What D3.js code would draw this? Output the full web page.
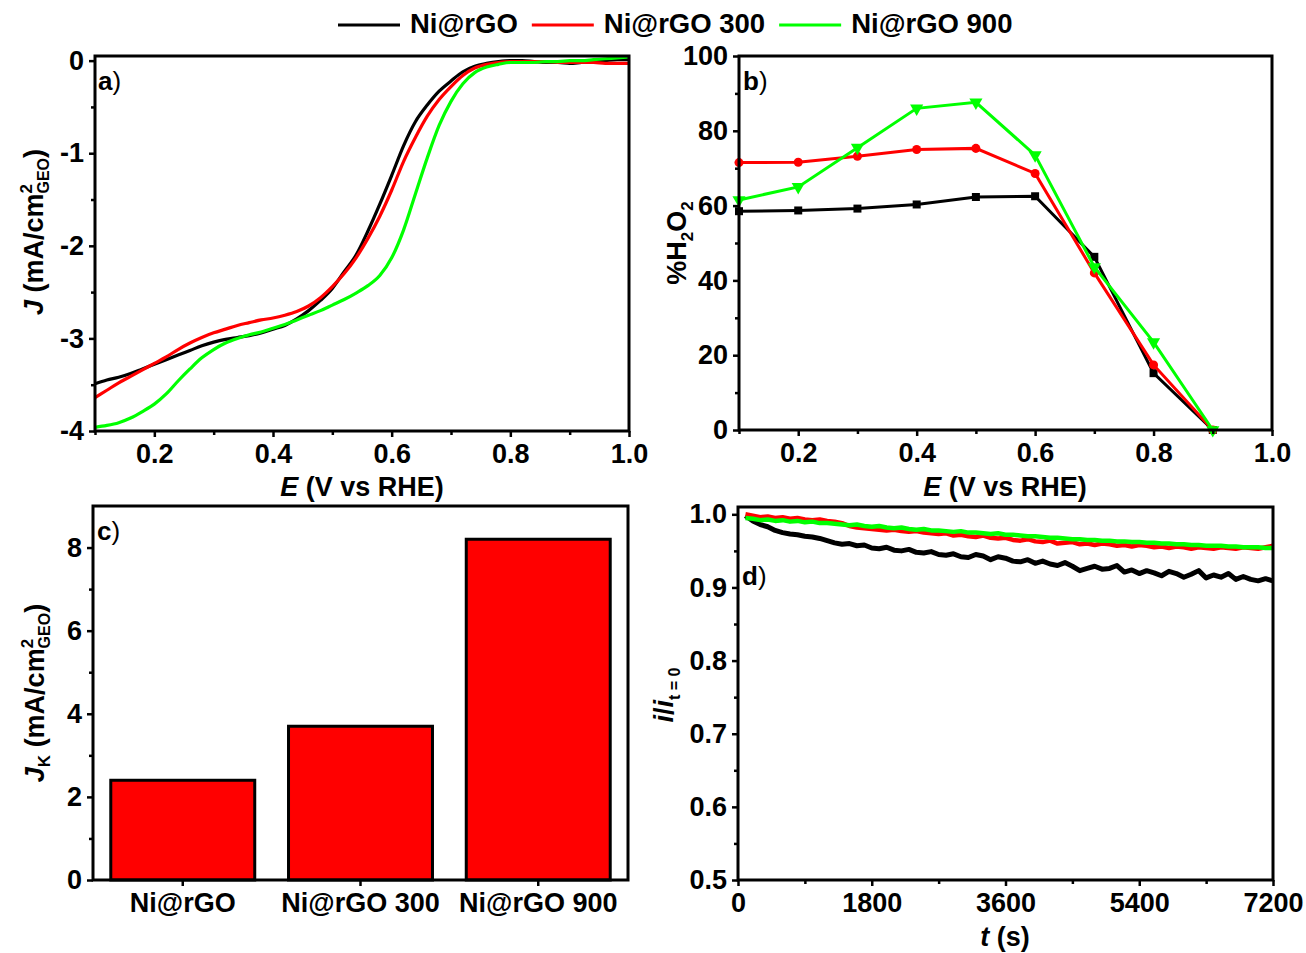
<!DOCTYPE html>
<html>
<head>
<meta charset="utf-8">
<script src="https://cdn.jsdelivr.net/npm/d3@7"></script>
<style>
  body { margin: 0; background: #fff; }
  svg text { font-family: "Liberation Sans", Arial, sans-serif; font-weight: bold; fill: #000; }
  .axis .domain { display: none; }
  .axis line { stroke: #000; stroke-width: 2.5px; }
  .axis text { font-size: 27px; font-family: "Liberation Sans", Arial, sans-serif; font-weight: bold; fill: #000; }
</style>
</head>
<body>
<svg id="chart" width="1306" height="953"></svg>
<script>
// ---- series ----
const seriesNames = ["Ni@rGO", "Ni@rGO 300", "Ni@rGO 900"];
const seriesColors = ["#000000", "#ff0000", "#00ff00"];

// a) LSV curves
const ePotential = [0.10, 0.12, 0.14, 0.16, 0.18, 0.20, 0.22, 0.24, 0.26, 0.28,
  0.30, 0.32, 0.34, 0.36, 0.38, 0.40, 0.42, 0.44, 0.46, 0.48,
  0.50, 0.52, 0.54, 0.56, 0.58, 0.60, 0.62, 0.64, 0.66, 0.68,
  0.70, 0.72, 0.74, 0.76, 0.78, 0.80, 0.82, 0.84, 0.86, 0.88,
  0.90, 0.92, 0.94, 0.96, 0.98, 1.00];
const jNiRGO = [-3.49, -3.45, -3.42, -3.38, -3.33, -3.28, -3.23, -3.18, -3.13, -3.08,
  -3.04, -3.01, -2.99, -2.97, -2.94, -2.90, -2.86, -2.79, -2.70, -2.59,
  -2.46, -2.28, -2.10, -1.84, -1.55, -1.24, -0.92, -0.66, -0.48, -0.33,
  -0.22, -0.12, -0.06, -0.03, -0.01, 0.00, 0.00, -0.01, -0.02, -0.02,
  -0.03, -0.02, -0.01, 0.00, 0.01, 0.01];
const jNiRGO300 = [-3.64, -3.56, -3.48, -3.41, -3.34, -3.27, -3.20, -3.12, -3.05, -2.99,
  -2.94, -2.90, -2.86, -2.83, -2.80, -2.78, -2.75, -2.71, -2.65, -2.56,
  -2.44, -2.30, -2.13, -1.92, -1.68, -1.40, -1.09, -0.83, -0.60, -0.42,
  -0.28, -0.16, -0.08, -0.04, -0.02, -0.01, -0.01, -0.01, -0.01, -0.02,
  -0.02, -0.02, -0.02, -0.03, -0.03, -0.03];
const jNiRGO900 = [-3.96, -3.94, -3.91, -3.86, -3.79, -3.71, -3.60, -3.46, -3.33, -3.21,
  -3.12, -3.05, -3.00, -2.96, -2.93, -2.89, -2.85, -2.80, -2.75, -2.70,
  -2.64, -2.58, -2.51, -2.43, -2.32, -2.13, -1.83, -1.44, -1.05, -0.70,
  -0.44, -0.25, -0.13, -0.07, -0.04, -0.02, -0.02, -0.02, -0.01, -0.01,
  0.00, 0.00, 0.01, 0.02, 0.03, 0.04];

// b) RRDE peroxide yield
const eRRDE = [0.1, 0.2, 0.3, 0.4, 0.5, 0.6, 0.7, 0.8, 0.9];
const h2o2NiRGO = [58.5, 58.7, 59.2, 60.3, 62.3, 62.5, 46.3, 15.2, 0];
const h2o2NiRGO300 = [71.5, 71.6, 73.2, 75.0, 75.3, 68.6, 42.0, 17.4, 0];
const h2o2NiRGO900 = [61.5, 65.0, 75.5, 86.0, 87.6, 73.5, 43.6, 23.5, 0];

// c) kinetic current
const jKinetic = [2.4, 3.7, 8.2];

// d) chronoamperometry
const tSeconds = [100, 200, 300, 400, 500, 600, 700, 800, 900, 1000,
  1100, 1200, 1300, 1400, 1500, 1600, 1700, 1800, 1900, 2000,
  2100, 2200, 2300, 2400, 2500, 2600, 2700, 2800, 2900, 3000,
  3100, 3200, 3300, 3400, 3500, 3600, 3700, 3800, 3900, 4000,
  4100, 4200, 4300, 4400, 4500, 4600, 4700, 4800, 4900, 5000,
  5100, 5200, 5300, 5400, 5500, 5600, 5700, 5800, 5900, 6000,
  6100, 6200, 6300, 6400, 6500, 6600, 6700, 6800, 6900, 7000,
  7100, 7200];
const iNiRGO = [0.998, 0.991, 0.986, 0.983, 0.978, 0.975, 0.973, 0.972, 0.970, 0.969,
  0.967, 0.964, 0.961, 0.959, 0.960, 0.957, 0.958, 0.954, 0.953, 0.955,
  0.951, 0.950, 0.952, 0.948, 0.947, 0.949, 0.945, 0.944, 0.946, 0.942,
  0.941, 0.945, 0.943, 0.938, 0.942, 0.940, 0.936, 0.935, 0.938, 0.933,
  0.936, 0.932, 0.930, 0.934, 0.929, 0.923, 0.926, 0.929, 0.925, 0.926,
  0.930, 0.921, 0.924, 0.919, 0.923, 0.920, 0.916, 0.922, 0.919, 0.914,
  0.918, 0.923, 0.913, 0.917, 0.914, 0.919, 0.911, 0.915, 0.911, 0.909,
  0.912, 0.909];
const iNiRGO300 = [1.000, 0.998, 0.996, 0.997, 0.995, 0.996, 0.994, 0.995, 0.993, 0.992,
  0.993, 0.991, 0.990, 0.988, 0.984, 0.982, 0.981, 0.980, 0.979, 0.978,
  0.979, 0.977, 0.976, 0.977, 0.975, 0.974, 0.973, 0.974, 0.971, 0.972,
  0.970, 0.969, 0.971, 0.968, 0.967, 0.968, 0.965, 0.964, 0.966, 0.963,
  0.962, 0.964, 0.960, 0.961, 0.962, 0.959, 0.960, 0.958, 0.960, 0.959,
  0.957, 0.958, 0.956, 0.958, 0.957, 0.955, 0.956, 0.954, 0.956, 0.955,
  0.953, 0.955, 0.954, 0.953, 0.955, 0.954, 0.953, 0.955, 0.954, 0.953,
  0.955, 0.957];
const iNiRGO900 = [0.995, 0.994, 0.992, 0.993, 0.991, 0.992, 0.990, 0.991, 0.989, 0.990,
  0.988, 0.988, 0.987, 0.986, 0.985, 0.986, 0.984, 0.983, 0.984, 0.982,
  0.981, 0.982, 0.980, 0.979, 0.980, 0.978, 0.978, 0.977, 0.976, 0.977,
  0.975, 0.975, 0.974, 0.973, 0.974, 0.972, 0.972, 0.971, 0.970, 0.970,
  0.969, 0.968, 0.968, 0.967, 0.966, 0.966, 0.965, 0.965, 0.964, 0.964,
  0.963, 0.963, 0.962, 0.962, 0.961, 0.961, 0.960, 0.960, 0.959, 0.959,
  0.958, 0.958, 0.957, 0.957, 0.957, 0.956, 0.956, 0.955, 0.955, 0.955,
  0.954, 0.954];

// ---- tick values ----
const eTicks = [0.2, 0.4, 0.6, 0.8, 1.0];
const eMinorTicks = [0.1, 0.3, 0.5, 0.7, 0.9];
const jTicks = [0, -1, -2, -3, -4];
const jMinorTicks = [-0.5, -1.5, -2.5, -3.5];
const h2o2Ticks = [0, 20, 40, 60, 80, 100];
const h2o2MinorTicks = [10, 30, 50, 70, 90];
const jkTicks = [0, 2, 4, 6, 8];
const jkMinorTicks = [1, 3, 5, 7];
const tTicks = [0, 1800, 3600, 5400, 7200];
const tMinorTicks = [900, 2700, 4500, 6300];
const iTicks = [0.5, 0.6, 0.7, 0.8, 0.9, 1.0];
const iMinorTicks = [0.55, 0.65, 0.75, 0.85, 0.95];

const svg = d3.select("#chart");

// helpers
function axisPair(g, scale, major, minor, orient, pos, fmt) {
  const mk = orient === "bottom" ? d3.axisBottom : d3.axisLeft;
  const tr = orient === "bottom" ? `translate(0,${pos})` : `translate(${pos},0)`;
  if (minor) {
    g.append("g").attr("class", "axis").attr("transform", tr)
      .call(mk(scale).tickValues(minor).tickSize(4).tickFormat(""));
  }
  g.append("g").attr("class", "axis").attr("transform", tr)
    .call(mk(scale).tickValues(major).tickSize(6)
      .tickPadding(orient === "bottom" ? 7 : 5).tickFormat(fmt));
}

function frame(x0, x1, y) {
  svg.append("rect")
    .attr("x", x0).attr("y", y.range()[1])
    .attr("width", x1 - x0)
    .attr("height", y.range()[0] - y.range()[1])
    .attr("fill", "none").attr("stroke", "#000").attr("stroke-width", 3);
}

function panelTag(x, y, letter) {
  const t = svg.append("text").attr("x", x).attr("y", y).style("font-size", "26px");
  t.append("tspan").text(letter);
  t.append("tspan").style("font-weight", "normal").text(")");
}

function eTitle(cx) {
  const t = svg.append("text").attr("x", cx).attr("y", 496)
    .attr("text-anchor", "middle").style("font-size", "27px");
  t.append("tspan").style("font-style", "italic").text("E");
  t.append("tspan").text(" (V vs RHE)");
}

const fmt1 = d3.format(".1f");
const plain = d => String(d);

// ================= a) =================
const xA = d3.scaleLinear().domain([0.1, 1.0]).range([95, 629]);
const yA = d3.scaleLinear().domain([-4, 0.05]).range([431, 56]);
const gA = svg.append("g");

[jNiRGO, jNiRGO300, jNiRGO900].forEach((ser, k) => {
  gA.append("path")
    .attr("d", d3.line()
      .x((d, i) => xA(ePotential[i]))
      .y(d => yA(d))
      .curve(d3.curveMonotoneX)(ser))
    .attr("fill", "none")
    .attr("stroke", seriesColors[k])
    .attr("stroke-width", 3.2);
});
axisPair(gA, xA, eTicks, eMinorTicks, "bottom", 431, fmt1);
axisPair(gA, yA, jTicks, jMinorTicks, "left", 95, plain);
frame(95, 629, yA);
panelTag(98, 90, "a");
eTitle(362);
{
  const t = svg.append("text").attr("transform", "translate(43,232) rotate(-90)")
    .attr("text-anchor", "middle").style("font-size", "27px");
  t.append("tspan").style("font-style", "italic").text("J");
  t.append("tspan").text(" (mA/cm");
  t.append("tspan").attr("dy", -11).style("font-size", "17px").text("2");
  t.append("tspan").attr("dx", -9.5).attr("dy", 17).style("font-size", "16px").text("GEO");
  t.append("tspan").attr("dy", -6).text(")");
}

// ================= b) =================
const xB = d3.scaleLinear().domain([0.1, 1.0]).range([739, 1272]);
const yB = d3.scaleLinear().domain([0, 100]).range([430, 56]);
const gB = svg.append("g");
const markerTypes = [d3.symbolSquare, d3.symbolCircle, d3.symbolTriangle];
const markerRot = [0, 0, 180];

[h2o2NiRGO, h2o2NiRGO300, h2o2NiRGO900].forEach((ser, k) => {
  gB.append("path")
    .attr("d", d3.line().x((d, i) => xB(eRRDE[i])).y(d => yB(d))(ser))
    .attr("fill", "none")
    .attr("stroke", seriesColors[k])
    .attr("stroke-width", 3);
  gB.selectAll(null).data(ser).enter().append("path")
    .attr("d", d3.symbol().type(markerTypes[k]).size(k === 2 ? 75 : 64))
    .attr("transform", (d, i) => `translate(${xB(eRRDE[i])},${yB(d)}) rotate(${markerRot[k]})`)
    .attr("fill", seriesColors[k]);
});
axisPair(gB, xB, eTicks, eMinorTicks, "bottom", 430, fmt1);
axisPair(gB, yB, h2o2Ticks, h2o2MinorTicks, "left", 739, plain);
frame(739, 1272, yB);
panelTag(743, 90, "b");
eTitle(1005);
{
  const t = svg.append("text").attr("transform", "translate(686,243) rotate(-90)")
    .attr("text-anchor", "middle").style("font-size", "27px");
  t.append("tspan").text("%H");
  t.append("tspan").attr("dy", 7).style("font-size", "17px").text("2");
  t.append("tspan").attr("dy", -7).text("O");
  t.append("tspan").attr("dy", 7).style("font-size", "17px").text("2");
}

// ================= c) =================
const xC = d3.scaleBand().domain(seriesNames).range([93, 628]).paddingInner(0.19).paddingOuter(0.1);
const yC = d3.scaleLinear().domain([0, 9]).range([880, 506]);
const gC = svg.append("g");

gC.selectAll("rect").data(jKinetic).enter().append("rect")
  .attr("x", (d, i) => xC(seriesNames[i]))
  .attr("y", d => yC(d))
  .attr("width", xC.bandwidth())
  .attr("height", d => yC(0) - yC(d))
  .attr("fill", "#ff0000")
  .attr("stroke", "#000")
  .attr("stroke-width", 3);
axisPair(gC, xC, seriesNames, null, "bottom", 880, plain);
axisPair(gC, yC, jkTicks, jkMinorTicks, "left", 93, plain);
frame(93, 628, yC);
panelTag(97, 540, "c");
{
  const t = svg.append("text").attr("transform", "translate(44,693) rotate(-90)")
    .attr("text-anchor", "middle").style("font-size", "27px");
  t.append("tspan").style("font-style", "italic").text("J");
  t.append("tspan").attr("dy", 6).style("font-size", "17px").text("K");
  t.append("tspan").attr("dy", -6).text(" (mA/cm");
  t.append("tspan").attr("dy", -11).style("font-size", "17px").text("2");
  t.append("tspan").attr("dx", -9.5).attr("dy", 17).style("font-size", "16px").text("GEO");
  t.append("tspan").attr("dy", -6).text(")");
}

// ================= d) =================
const xD = d3.scaleLinear().domain([0, 7200]).range([738, 1273]);
const yD = d3.scaleLinear().domain([0.5, 1.01]).range([880, 507]);
const gD = svg.append("g");

[iNiRGO, iNiRGO300, iNiRGO900].forEach((ser, k) => {
  gD.append("path")
    .attr("d", d3.line().x((d, i) => xD(tSeconds[i])).y(d => yD(d))(ser))
    .attr("fill", "none")
    .attr("stroke", seriesColors[k])
    .attr("stroke-width", k === 0 ? 5 : 4.5)
    .attr("stroke-linejoin", "round");
});
axisPair(gD, xD, tTicks, tMinorTicks, "bottom", 880, plain);
axisPair(gD, yD, iTicks, iMinorTicks, "left", 738, fmt1);
frame(738, 1273, yD);
panelTag(742, 585, "d");
{
  const t = svg.append("text").attr("x", 1005).attr("y", 946)
    .attr("text-anchor", "middle").style("font-size", "27px");
  t.append("tspan").style("font-style", "italic").text("t");
  t.append("tspan").text(" (s)");
}
{
  const t = svg.append("text").attr("transform", "translate(673,695) rotate(-90)")
    .attr("text-anchor", "middle").style("font-size", "27px");
  t.append("tspan").style("font-style", "italic").text("i");
  t.append("tspan").text("/");
  t.append("tspan").style("font-style", "italic").text("i");
  t.append("tspan").attr("dy", 7).style("font-size", "16px").text("t = 0");
}

// ================= legend =================
const legend = svg.append("g");
let lx = 338;
seriesNames.forEach((name, k) => {
  legend.append("line")
    .attr("x1", lx).attr("x2", lx + 62)
    .attr("y1", 25).attr("y2", 25)
    .attr("stroke", seriesColors[k]).attr("stroke-width", 3);
  const txt = legend.append("text")
    .attr("x", lx + 72).attr("y", 33)
    .style("font-size", "27.5px")
    .text(name);
  lx += 72 + txt.node().getComputedTextLength() + 14;
});
</script>
</body>
</html>
